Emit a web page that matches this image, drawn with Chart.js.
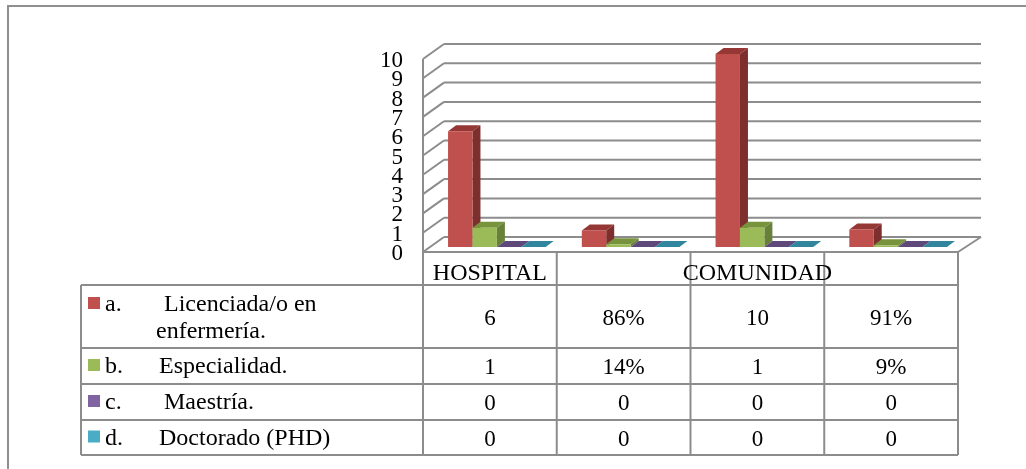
<!DOCTYPE html>
<html>
<head>
<meta charset="utf-8">
<style>
  html, body { margin: 0; padding: 0; background: #fff; }
  canvas { display: block; }
</style>
<script src="https://cdn.jsdelivr.net/npm/chart.js@4"></script>
</head>
<body>
<canvas id="chart" width="1026" height="469"></canvas>
<script>
// Formación académica del personal de enfermería, por ámbito
const categories = ['HOSPITAL', 'HOSPITAL %', 'COMUNIDAD', 'COMUNIDAD %'];
const licenciada = [6, 0.86, 10, 0.91];
const especialidad = [1, 0.14, 1, 0.09];
const maestria = [0, 0, 0, 0];
const doctorado = [0, 0, 0, 0];
const yTicks = [0, 1, 2, 3, 4, 5, 6, 7, 8, 9, 10];

const FONT = '"Liberation Serif", "Times New Roman", serif';
const LINE = '#8c8c8c';
const DEPTH = { wallX: 21, wallY: -15, barX: 8, barY: -6, planeX: 7, planeY: -5 };

const palette = [
  { front: '#C0504D', side: '#7D2F2D', top: '#953735' },
  { front: '#9BBB59', side: '#67803A', top: '#77933C' },
  { front: '#8064A2', side: '#533F6C', top: '#5F497A' },
  { front: '#4BACC6', side: '#2C7386', top: '#31859C' }
];

// Filas de la tabla: viñeta, nombre y su sangría
const rows = [
  { tag: 'a.', lines: [['Licenciada/o en', 164], ['enfermería.', 156]], values: licenciada, top: 285, bottom: 348 },
  { tag: 'b.', lines: [['Especialidad.', 159]], values: especialidad, top: 348, bottom: 384 },
  { tag: 'c.', lines: [['Maestría.', 164]], values: maestria, top: 384, bottom: 420 },
  { tag: 'd.', lines: [['Doctorado (PHD)', 159]], values: doctorado, top: 420, bottom: 455 }
];

// Las columnas impares guardan proporciones y se muestran como porcentaje
function cellText(value, col) {
  return col % 2 === 1 && value > 0 ? Math.round(value * 100) + '%' : String(value);
}

function segment(ctx, x1, y1, x2, y2) {
  ctx.beginPath();
  ctx.moveTo(x1, y1);
  ctx.lineTo(x2, y2);
  ctx.stroke();
}

function poly(ctx, pts, fill) {
  ctx.fillStyle = fill;
  ctx.beginPath();
  pts.forEach((p, i) => (i ? ctx.lineTo(p[0], p[1]) : ctx.moveTo(p[0], p[1])));
  ctx.closePath();
  ctx.fill();
}

// Paredes del gráfico 3D: rejilla posterior, diagonales y suelo
const wallPlugin = {
  id: 'walls',
  beforeDatasetsDraw(chart) {
    const { ctx, chartArea: a, scales: { y } } = chart;
    ctx.save();
    ctx.strokeStyle = LINE;
    ctx.lineWidth = 2;
    yTicks.forEach(t => {
      const py = y.getPixelForValue(t);
      segment(ctx, a.left, py, a.left + DEPTH.wallX, py + DEPTH.wallY);
      segment(ctx, a.left + DEPTH.wallX, py + DEPTH.wallY, a.right + DEPTH.wallX + 2, py + DEPTH.wallY);
    });
    segment(ctx, a.left, a.top, a.left, a.bottom);
    segment(ctx, a.right, a.bottom, a.right + DEPTH.wallX + 2, a.bottom + DEPTH.wallY);
    ctx.restore();
  }
};

// Las barras se pintan de izquierda a derecha, para que cada cara frontal
// tape el lateral de la barra anterior, en un plano desplazado hacia el fondo
const depthPlugin = {
  id: 'barDepth',
  beforeDatasetDraw() {
    return false;
  },
  afterDatasetsDraw(chart) {
    const ctx = chart.ctx;
    ctx.save();
    ctx.translate(DEPTH.planeX, DEPTH.planeY);
    chart.data.datasets.forEach((_, index) => {
      const c = palette[index];
      chart.getDatasetMeta(index).data.forEach(bar => {
        const l = bar.x - bar.width / 2, r = bar.x + bar.width / 2;
        const t = bar.y, b = bar.base;
        const dx = DEPTH.barX, dy = DEPTH.barY;
        poly(ctx, [[l, t], [r, t], [r + dx, t + dy], [l + dx, t + dy]], c.top);
        if (b - t > 0.01) poly(ctx, [[r, t], [r + dx, t + dy], [r + dx, b + dy], [r, b]], c.side);
        bar.draw(ctx);
      });
    });
    ctx.restore();
  }
};

// Tabla de datos bajo el eje, con leyenda integrada
const tablePlugin = {
  id: 'dataTable',
  afterDraw(chart) {
    const { ctx, chartArea: a, scales: { x } } = chart;
    const bandW = (a.right - a.left) / categories.length;
    const edges = categories.map((_, i) => a.left + i * bandW).concat(a.right);
    const tableLeft = 81, headTop = a.bottom, bodyTop = rows[0].top;
    const tableBottom = rows[rows.length - 1].bottom;
    ctx.save();

    // Marco exterior de la figura
    ctx.strokeStyle = '#8f8f8f';
    ctx.lineWidth = 2;
    segment(ctx, 8, 6, 1026, 6);
    segment(ctx, 8, 5, 8, 469);

    // Cuadrícula
    ctx.strokeStyle = LINE;
    segment(ctx, a.left, headTop, a.right, headTop);
    edges.forEach(ex => segment(ctx, ex, headTop, ex, tableBottom));
    rows.forEach(r => segment(ctx, tableLeft, r.top, a.right, r.top));
    segment(ctx, tableLeft, tableBottom, a.right, tableBottom);
    segment(ctx, tableLeft, bodyTop, tableLeft, tableBottom);

    ctx.fillStyle = '#000';
    ctx.textBaseline = 'alphabetic';
    ctx.font = '24px ' + FONT;

    // Encabezados: HOSPITAL en su columna, COMUNIDAD sobre las otras tres
    ctx.textAlign = 'center';
    ctx.fillText(categories[0], x.getPixelForValue(0), 280);
    ctx.fillText(categories[2], (edges[1] + edges[4]) / 2, 280);

    rows.forEach((r, i) => {
      const mid = (r.top + r.bottom) / 2;
      const first = r.lines.length > 1 ? r.top + 26 : mid + 7;
      ctx.fillStyle = palette[i].front;
      ctx.fillRect(88, first - 14, 12, 12);
      ctx.fillStyle = '#000';
      ctx.textAlign = 'left';
      ctx.font = '24px ' + FONT;
      ctx.fillText(r.tag, 105, first);
      r.lines.forEach((ln, k) => ctx.fillText(ln[0], ln[1], first + k * 27));
      ctx.textAlign = 'center';
      ctx.font = '23px ' + FONT;
      r.values.forEach((v, col) => ctx.fillText(cellText(v, col), x.getPixelForValue(col), mid + 8));
    });
    ctx.restore();
  }
};

const seriesValues = [licenciada, especialidad, maestria, doctorado];
const seriesNames = ['a. Licenciada/o en enfermería.', 'b. Especialidad.', 'c. Maestría.', 'd. Doctorado (PHD)'];

new Chart(document.getElementById('chart'), {
  type: 'bar',
  data: {
    labels: categories,
    datasets: seriesValues.map((data, i) => ({
      label: seriesNames[i],
      data,
      backgroundColor: palette[i].front,
      borderWidth: 0,
      categoryPercentage: 0.73,
      barPercentage: 1
    }))
  },
  options: {
    responsive: false,
    animation: false,
    devicePixelRatio: 1,
    layout: { padding: { left: 0, right: 68, top: 59, bottom: 217 } },
    plugins: { legend: { display: false }, tooltip: { enabled: false } },
    scales: {
      x: { display: false, grid: { display: false } },
      y: {
        min: 0,
        max: 10,
        grid: { display: false },
        border: { display: false },
        afterFit(scale) { scale.width = 423; },
        ticks: {
          stepSize: 1,
          autoSkip: false,
          color: '#000',
          padding: 12,
          labelOffset: 2,
          font: { family: FONT, size: 23 }
        }
      }
    }
  },
  plugins: [wallPlugin, depthPlugin, tablePlugin]
});
</script>
</body>
</html>
